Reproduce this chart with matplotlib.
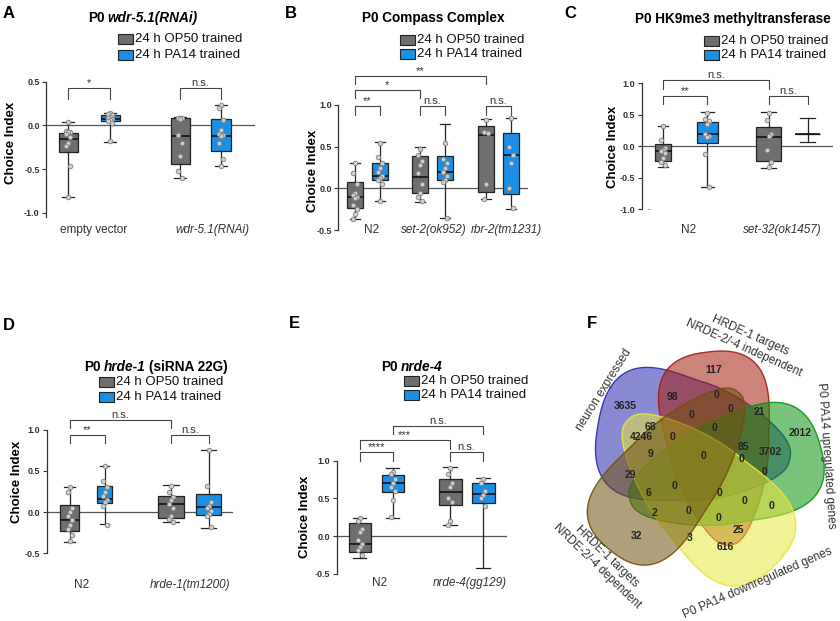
import numpy as np
import matplotlib
matplotlib.use('Agg')
import matplotlib.pyplot as plt
from matplotlib.patches import Rectangle, Polygon

plt.rcParams['font.family'] = ['Liberation Sans', 'DejaVu Sans']
plt.rcParams['axes.unicode_minus'] = False

W, H = 840, 621
GRAY = '#6e6e6e'
BLUE = '#1b8fe3'
INK = '#222222'

legend_labels = ['24 h OP50 trained', '24 h PA14 trained']

# ---- A: P0 wdr-5.1(RNAi)
a_groups = ['empty vector', 'wdr-5.1(RNAi)']
a_q1 = [-0.30, 0.055, -0.44, -0.29]
a_med = [-0.16, 0.07, -0.117, -0.12]
a_q3 = [-0.083, 0.12, 0.081, 0.078]
a_lo = [-0.82, -0.186, -0.606, -0.465]
a_hi = [0.043, 0.146, 0.093, 0.234]
a_points = [
    [0.04, -0.06, -0.07, -0.08, -0.1, -0.13, -0.2, -0.23, -0.47, -0.82],
    [0.14, 0.13, 0.12, 0.1, 0.08, 0.07, 0.06, 0.05, 0.03, -0.18],
    [0.09, 0.08, 0.08, 0.07, -0.11, -0.2, -0.35, -0.52, -0.6],
    [0.23, 0.2, 0.06, -0.05, -0.1, -0.11, -0.12, -0.2, -0.38, -0.46],
]
a_sig = ['*', 'n.s.']

# ---- B: P0 Compass Complex
b_groups = ['N2', 'set-2(ok952)', 'rbr-2(tm1231)']
b_q1 = [-0.239, 0.101, -0.059, 0.097, -0.039, -0.067]
b_med = [-0.099, 0.153, 0.137, 0.201, 0.64, 0.397]
b_q3 = [0.081, 0.309, 0.389, 0.389, 0.748, 0.66]
b_lo = [-0.366, -0.151, -0.163, -0.358, -0.131, -0.247]
b_hi = [0.30, 0.553, 0.497, 0.776, 0.828, 0.844]
b_points = [
    [0.3, 0.18, 0.05, -0.05, -0.08, -0.1, -0.12, -0.2, -0.25, -0.3, -0.36],
    [0.55, 0.38, 0.3, 0.25, 0.2, 0.15, 0.13, 0.1, 0.05, -0.15],
    [0.47, 0.4, 0.33, 0.28, 0.18, 0.05, -0.05, -0.1, -0.15],
    [0.55, 0.35, 0.3, 0.25, 0.2, 0.15, 0.1, 0.08, -0.35],
    [0.82, 0.68, 0.66, 0.05, -0.13],
    [0.84, 0.5, 0.4, 0.3, 0.0, -0.24],
]
b_sig = ['**', 'n.s.', 'n.s.', '*', '**']

# ---- C: P0 HK9me3 methyltransferase
c_groups = ['N2', 'set-32(ok1457)']
c_q1 = [-0.23, 0.06, -0.23, 0.196]
c_med = [-0.08, 0.19, 0.155, 0.196]
c_q3 = [0.04, 0.39, 0.30, 0.196]
c_lo = [-0.32, -0.65, -0.335, 0.075]
c_hi = [0.33, 0.545, 0.55, 0.455]
c_points = [
    [0.33, 0.1, -0.02, -0.05, -0.08, -0.1, -0.18, -0.25, -0.3],
    [0.53, 0.43, 0.4, 0.35, 0.2, 0.17, 0.15, -0.12, -0.65],
    [0.53, 0.42, 0.2, 0.17, -0.05, -0.25, -0.32],
    [],
]
c_sig = ['**', 'n.s.', 'n.s.']

# ---- D: P0 hrde-1 (siRNA 22G)
d_groups = ['N2', 'hrde-1(tm1200)']
d_q1 = [-0.228, 0.108, -0.066, -0.034]
d_med = [-0.095, 0.156, 0.095, 0.067]
d_q3 = [0.087, 0.322, 0.20, 0.221]
d_lo = [-0.357, -0.147, -0.123, -0.188]
d_hi = [0.30, 0.564, 0.326, 0.75]
d_points = [
    [0.3, 0.25, 0.05, 0.0, -0.05, -0.1, -0.15, -0.2, -0.28, -0.35],
    [0.56, 0.38, 0.3, 0.25, 0.2, 0.15, 0.12, 0.08, -0.15],
    [0.32, 0.25, 0.18, 0.15, 0.1, 0.05, -0.05, -0.08, -0.12],
    [0.75, 0.32, 0.12, 0.08, 0.05, 0.02, -0.02, -0.05, -0.18],
]
d_sig = ['**', 'n.s.', 'n.s.']

# ---- E: P0 nrde-4
e_groups = ['N2', 'nrde-4(gg129)']
e_q1 = [-0.215, 0.58, 0.417, 0.434]
e_med = [-0.109, 0.708, 0.585, 0.553]
e_q3 = [0.17, 0.814, 0.752, 0.70]
e_lo = [-0.286, 0.245, 0.148, -0.427]
e_hi = [0.245, 0.898, 0.92, 0.775]
e_points = [
    [0.24, 0.2, 0.1, 0.05, -0.05, -0.1, -0.15, -0.18, -0.25],
    [0.85, 0.82, 0.75, 0.7, 0.65, 0.6, 0.48, 0.25],
    [0.9, 0.82, 0.7, 0.65, 0.5, 0.45, 0.2, 0.15],
    [0.75, 0.7, 0.6, 0.55, 0.5, 0.4],
]
e_sig = ['****', 'n.s.', '***', 'n.s.']

# ---- F: five-set Venn
venn_sets = ['neuron expressed', 'HRDE-1 targets\nNRDE-2/-4 independent',
             'P0 PA14 upregulated genes', 'P0 PA14 downregulated genes',
             'HRDE-1 targets\nNRDE-2/-4 dependent']
venn_counts = [117, 98, 0, 0, 0, 21, 3635, 68, 0, 85, 2012, 4246, 0, 3702, 9, 0,
               0, 0, 29, 0, 0, 6, 0, 0, 2, 0, 0, 25, 32, 3, 616]

fig = plt.figure(figsize=(W / 100, H / 100), dpi=100)


def fx(x):
    return x / W


def fy(y):
    return 1 - y / H


def add_ax(left, top, right, bottom):
    return fig.add_axes([fx(left), fy(bottom), (right - left) / W, (bottom - top) / H])


def box_panel(frame, ylim, yticks, pos, widths, q1, med, q3, lo, hi, points, pairs, levels, sig):
    left, top, right, bottom = frame
    ax = add_ax(left, top, right, bottom)
    stats = [dict(q1=a, med=b, q3=c, whislo=d, whishi=e, fliers=[])
             for a, b, c, d, e in zip(q1, med, q3, lo, hi)]
    bp = ax.bxp(stats, positions=pos, widths=widths, capwidths=[w * 0.6 for w in widths],
                patch_artist=True, showfliers=False,
                boxprops=dict(edgecolor=INK, linewidth=0.9),
                medianprops=dict(color='#111111', linewidth=1.2),
                whiskerprops=dict(color=INK, linewidth=0.9),
                capprops=dict(color=INK, linewidth=0.9))
    for i, box in enumerate(bp['boxes']):
        box.set_facecolor(GRAY if i % 2 == 0 else BLUE)
    for x, ys in zip(pos, points):
        if not ys:
            continue
        xs = [x + (0, -2, 2)[k % 3] for k in range(len(ys))]
        ax.scatter(xs, ys, s=11, facecolor='#cfcfcf', edgecolor='#808080', linewidth=0.6, zorder=3)
    ax.axhline(0, color='#555555', lw=0.9, zorder=0)
    ax.set_xlim(0, right - left)
    ax.set_ylim(*ylim)
    for side in ['top', 'right', 'bottom']:
        ax.spines[side].set_visible(False)
    ax.spines['left'].set_color('#333333')
    ax.spines['left'].set_linewidth(0.9)
    ax.set_xticks([])
    ax.set_yticks(yticks, labels=['%.1f' % v for v in yticks], fontsize=6.5, fontweight='bold')
    ax.tick_params(axis='y', length=3, width=0.8, pad=1.5, colors='#333333')
    for (i, j), (leg, tp), s in zip(pairs, levels, sig):
        x1, x2 = pos[i], pos[j]
        ax.plot([x1, x1, x2, x2], [leg, tp, tp, leg], color='#444444', lw=0.8, clip_on=False)
        ax.text((x1 + x2) / 2, tp, s, ha='center', va='bottom', fontsize=8, color='#333333', clip_on=False)
    return ax


def rich_title(cx, cy, pieces, size=9.8):
    r = fig.canvas.get_renderer()
    objs = [fig.text(0, fy(cy), s, fontsize=size, fontweight='bold', fontstyle=st,
                     ha='left', va='center') for s, st in pieces]
    widths = [t.get_window_extent(r).width for t in objs]
    gap = 3
    x = cx - (sum(widths) + gap * (len(objs) - 1)) / 2
    for t, w in zip(objs, widths):
        t.set_x(fx(x))
        x += w + gap


def legend(x, y1, y2):
    for yy, c, lab in zip((y1, y2), (GRAY, BLUE), legend_labels):
        fig.patches.append(Rectangle((fx(x), fy(yy + 5)), 15 / W, 10 / H, transform=fig.transFigure,
                                     facecolor=c, edgecolor=INK, lw=0.8))
        fig.text(fx(x + 17), fy(yy), lab, fontsize=9.5, ha='left', va='center', color='#111111')


def ylabel(x, y):
    fig.text(fx(x), fy(y), 'Choice Index', rotation=90, fontsize=9.5, fontweight='bold',
             ha='center', va='center')


def xlabels(names, xs, y, italic):
    for n, x, it in zip(names, xs, italic):
        fig.text(fx(x), fy(y), n, fontsize=8.5, ha='center', va='center', color='#333333',
                 fontstyle='italic' if it else 'normal')


def letter(x, y, s):
    fig.text(fx(x), fy(y), s, fontsize=12, fontweight='bold', ha='center', va='center')


def blob(tail, tip, b, k, p=0.8, n=300):
    # rounded egg outline: narrower at the tail, full lobe near the tip
    tail, tip = np.array(tail, float), np.array(tip, float)
    c = (tail + tip) / 2
    u = (tip - tail) / np.linalg.norm(tip - tail)
    v = np.array([-u[1], u[0]])
    a = np.linalg.norm(tip - tail) / 2
    t = np.linspace(0, 2 * np.pi, n)
    ct, st = np.cos(t), np.sin(t)
    along = a * np.sign(ct) * np.abs(ct) ** p
    across = b * np.sign(st) * np.abs(st) ** p * (1 + k * ct)
    return c + np.outer(along, u) + np.outer(across, v)


# A
box_panel((46, 81.8, 255, 217.1), (-1.05, 0.5), [-1.0, -0.5, 0.0, 0.5],
          [22, 64, 134, 175], [19, 19, 19, 20],
          a_q1, a_med, a_q3, a_lo, a_hi, a_points,
          [(0, 1), (2, 3)], [(0.30, 0.43), (0.30, 0.43)], a_sig)
letter(9, 14, 'A')
rich_title(143, 18, [('P0', 'normal'), ('wdr-5.1(RNAi)', 'italic')])
legend(118, 39, 55)
ylabel(11, 143)
xlabels(a_groups, [94, 212], 230, [False, True])

# B
box_panel((338.3, 105, 528.3, 230.2), (-0.5, 1.0), [-0.5, 0.0, 0.5, 1.0],
          [16.4, 41.4, 81.4, 106.4, 147.4, 172.4], [16] * 6,
          b_q1, b_med, b_q3, b_lo, b_hi, b_points,
          [(0, 1), (2, 3), (4, 5), (0, 2), (0, 4)],
          [(0.88, 0.99), (0.88, 0.99), (0.88, 0.99), (1.08, 1.18), (1.25, 1.35)], b_sig)
letter(291, 13, 'B')
rich_title(433, 18, [('P0 Compass Complex', 'normal')])
legend(400, 40, 54)
ylabel(313, 171)
xlabels(b_groups, [371.7, 433.3, 506.7], 230, [False, True, True])

# C
box_panel((641.7, 83.3, 833.3, 209.5), (-1.0, 1.0), [-1.0, -0.5, 0.0, 0.5, 1.0],
          [21.3, 65.5, 126.8, 165.8], [16, 21, 25, 25],
          c_q1, c_med, c_q3, c_lo, c_hi, c_points,
          [(0, 1), (2, 3), (0, 2)], [(0.67, 0.80), (0.67, 0.80), (0.91, 1.06)], c_sig)
letter(570, 13, 'C')
rich_title(733, 19, [('P0 HK9me3 methyltransferase', 'normal')])
legend(704, 41, 55)
ylabel(613, 147)
xlabels(c_groups, [688.3, 782.7], 230, [False, True])
fig.text(fx(649), fy(210), '-', fontsize=6, ha='center', va='center', color='#333333')

# D
box_panel((46.7, 429.7, 233.3, 553.4), (-0.5, 1.0), [-0.5, 0.0, 0.5, 1.0],
          [23, 57.8, 124.5, 161.8], [19, 15, 26, 25],
          d_q1, d_med, d_q3, d_lo, d_hi, d_points,
          [(0, 1), (2, 3), (0, 2)], [(0.835, 0.94), (0.835, 0.94), (1.02, 1.12)], d_sig)
letter(9, 326, 'D')
rich_title(156, 367, [('P0', 'normal'), ('hrde-1', 'italic'), ('(siRNA 22G)', 'normal')])
legend(99, 382, 397)
ylabel(17, 482)
xlabels(d_groups, [81.7, 190], 585, [False, True])

# E
box_panel((336.7, 460.6, 506.7, 573.9), (-0.5, 1.0), [-0.5, 0.0, 0.5, 1.0],
          [22.8, 56.1, 113.3, 146.6], [22, 22, 23, 23],
          e_q1, e_med, e_q3, e_lo, e_hi, e_points,
          [(0, 1), (2, 3), (0, 2), (1, 3)],
          [(1.0, 1.11), (1.0, 1.11), (1.155, 1.27), (1.35, 1.46)], e_sig)
letter(294, 323, 'E')
rich_title(412, 367, [('P0', 'normal'), ('nrde-4', 'italic')])
legend(404, 381, 395)
ylabel(305, 517)
xlabels(e_groups, [380, 470], 583, [False, True])

# F: Venn diagram, drawn in pixel coordinates
axf = add_ax(560, 300, 840, 621)
axf.set_xlim(560, 840)
axf.set_ylim(621, 300)
axf.axis('off')
blob_tail = [(790, 458), (730, 545), (630, 500), (628, 420), (738, 392)]
blob_tip = [(598, 425), (708, 352), (820, 445), (775, 565), (610, 550)]
blob_b = [60, 50, 52, 52, 48]
blob_k = [0.45, 0.45, 0.4, 0.42, 0.42]
blob_col = ['#2b2bb0', '#a31e0d', '#0d930d', '#e6e63f', '#71500d']
for tl, tp, b, k, c in zip(blob_tail, blob_tip, blob_b, blob_k, blob_col):
    pts = blob(tl, tp, b, k)
    axf.add_patch(Polygon(pts, closed=True, facecolor=c, alpha=0.55, edgecolor='none'))
    axf.add_patch(Polygon(pts, closed=True, facecolor='none', edgecolor=c, lw=1.0, alpha=0.9))
count_xy = [(713.3, 370), (672.7, 396.7), (716, 395), (691.7, 415), (730.7, 409.3),
            (759.3, 412.3), (625, 406), (650.7, 426.7), (715, 428.3), (743.3, 446.7),
            (800, 432.7), (641.7, 436.7), (672.7, 436.7), (770, 451.7), (651, 454),
            (703.3, 456), (741.7, 459.3), (765, 472.3), (630, 475), (675, 486),
            (719.3, 492.7), (648.3, 492.7), (745, 501), (771.7, 506), (655, 513.3),
            (688.3, 511), (718.3, 518.3), (738.3, 530), (636.7, 536), (689.3, 538.3),
            (725, 546.7)]
for (x, y), n in zip(count_xy, venn_counts):
    axf.text(x, y, str(n), fontsize=7.5, fontweight='bold', ha='center', va='center', color='#222222')
label_xy = [(604, 390), (747, 342), (826, 456), (758, 583), (602, 561)]
label_rot = [58, -24, -86, 23.6, -44]
for (x, y), s, rot in zip(label_xy, venn_sets, label_rot):
    axf.text(x, y, s, fontsize=8.5, rotation=rot, ha='center', va='center', color='#333333',
             multialignment='center', rotation_mode='anchor', clip_on=False)
letter(592, 323, 'F')

fig.savefig('out.png', dpi=100)
